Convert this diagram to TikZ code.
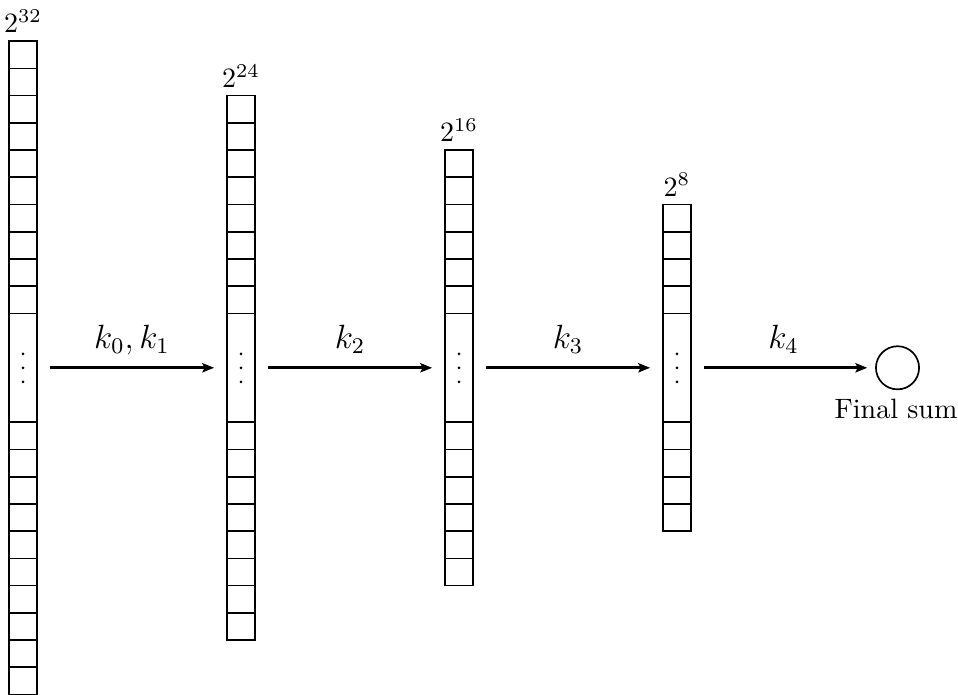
\documentclass[tikz,border=0pt]{standalone}
\usetikzlibrary{arrows.meta}
\begin{document}
\begin{tikzpicture}[x=0.357pt,y=-0.357pt,
  colbox/.style={draw, line width=0.6pt, minimum width=10pt, inner sep=0pt, outer sep=0pt},
  cellline/.style={line width=0.6pt},
  flow/.style={line width=1.05pt, -{Stealth[length=4.2pt,width=3.3pt,inset=0.8pt]}, shorten <=4.8pt, shorten >=4.6pt},
  klabel/.style={anchor=base, yshift=6.8pt, inner sep=0pt, font=\large},
  sizelabel/.style={above, inner sep=2.8pt},
  sumnode/.style={circle, draw, line width=0.6pt, minimum size=15.4pt, inner sep=0pt, outer sep=0pt},
]
\useasboundingbox (0,0) rectangle (958,695);
\def\h{27.22}
\def\cy{367.8}
\foreach \name/\xc/\n/\lab in {c1/23/10/32, c2/241/8/24, c3/459/6/16, c4/677/4/8} {
  \pgfmathsetmacro\H{(2*\n+4)*\h*0.357}
  \pgfmathsetmacro\top{\cy-(\n+2)*\h}
  \pgfmathsetmacro\bot{\cy+(\n+2)*\h}
  \node[colbox, minimum height=\H pt] (\name) at (\xc,\cy) {};
  \node[sizelabel] (\name-lab) at (\name.north) {$2^{\lab}$};
  \foreach \k in {1,...,\n} {
    \draw[cellline] (\xc-14,\top+\k*\h) -- (\xc+14,\top+\k*\h);
    \draw[cellline] (\xc-14,\bot-\k*\h) -- (\xc+14,\bot-\k*\h);
  }
  \foreach \d in {-14,0,14} {
    \fill (\xc,\cy+\d) circle[radius=1.5];
  }
}
\node[sumnode] (fs) at (897.5,\cy) {};
\node[anchor=base] (fslab) at (896,419) {Final sum};
\draw[flow] (c1) -- node[klabel] {$k_0, k_1$} (c2);
\draw[flow] (c2) -- node[klabel] {$k_2$} (c3);
\draw[flow] (c3) -- node[klabel] {$k_3$} (c4);
\draw[flow, shorten >=3.1pt] (c4) -- node[klabel] {$k_4$} (fs);
\end{tikzpicture}
\end{document}
